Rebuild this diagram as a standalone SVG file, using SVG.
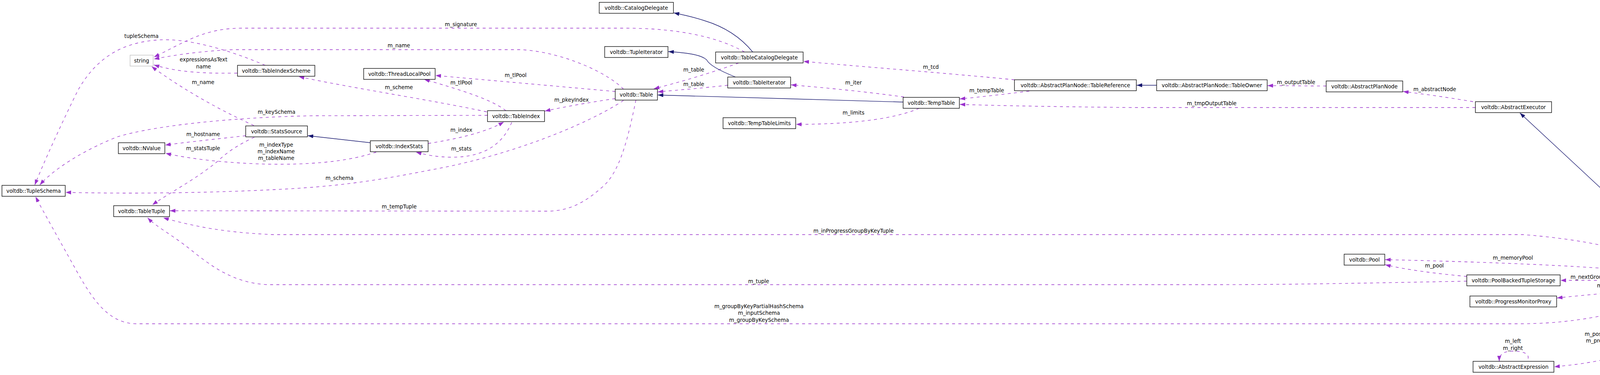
<svg xmlns="http://www.w3.org/2000/svg" width="4771" height="959" viewBox="0 0 4771 959">
<style>
text{font-family:"DejaVu Sans","Liberation Sans",sans-serif;font-size:13.33px;fill:#000}
.n text{text-anchor:middle}
.n rect{fill:#fff;stroke:#000;stroke-width:1.33}
.lbl{text-anchor:middle}
.d{fill:none;stroke:#9a32cd;stroke-width:1.33;stroke-dasharray:7.5,8.5;marker-end:url(#ap)}
.s{fill:none;stroke:#191970;stroke-width:1.33;marker-end:url(#an)}
</style>
<defs>
<marker id="ap" markerUnits="userSpaceOnUse" markerWidth="14" markerHeight="10" viewBox="0 0 14 10" refX="14" refY="5" orient="auto"><path d="M0,0 L14,5 L0,10 z" fill="#9a32cd"/></marker>
<marker id="an" markerUnits="userSpaceOnUse" markerWidth="14" markerHeight="10" viewBox="0 0 14 10" refX="14" refY="5" orient="auto"><path d="M0,0 L14,5 L0,10 z" fill="#191970"/></marker>
</defs>
<rect width="4771" height="959" fill="#fff"/>
<g id="edges">
<path class="d" d="M1906,133 C1830,90 1720,72 1600,72 L620,72 C520,72 470,110 394,146"/>
<text class="lbl" x="1180" y="67">m_signature</text>
<path class="d" d="M1596,228 C1560,190 1450,135 1336,127 L600,127 C520,130 450,140 394,151"/>
<text class="lbl" x="1021" y="121">m_name</text>
<path class="d" d="M679,167 C580,125 480,98 408,102 C300,108 240,160 200,230 C160,310 110,420 89,473"/>
<text class="lbl" x="362" y="97">tupleSchema</text>
<path class="d" d="M607,187 C530,188 460,186 394,166"/>
<text class="lbl" x="521" y="157">expressionsAsText</text>
<text class="lbl" x="521" y="175">name</text>
<path class="d" d="M650,321 C560,280 470,230 388,170"/>
<text class="lbl" x="520" y="215">m_name</text>
<path class="d" d="M1248,295 L800,296 C600,300 400,320 300,350 C200,390 130,440 102,473"/>
<text class="lbl" x="708" y="291">m_keySchema</text>
<path class="d" d="M629,347 C560,355 490,362 423,371"/>
<text class="lbl" x="520" y="348">m_hostname</text>
<path class="d" d="M651,351 C610,370 580,390 560,410 C500,460 430,495 390,524"/>
<text class="lbl" x="520" y="384">m_statsTuple</text>
<path class="d" d="M963,389 C900,410 820,420 714,420 C620,420 500,410 424,392"/>
<text class="lbl" x="707" y="375">m_indexType</text>
<text class="lbl" x="707" y="392">m_indexName</text>
<text class="lbl" x="707" y="409">m_tableName</text>
<path class="d" d="M1246,286 C1100,255 900,225 765,196"/>
<text class="lbl" x="1021" y="228">m_scheme</text>
<path class="d" d="M1575,234 C1420,220 1250,205 1115,193"/>
<text class="lbl" x="1320" y="197">m_tlPool</text>
<path class="d" d="M1295,283 C1260,255 1180,230 1086,203"/>
<text class="lbl" x="1181" y="216">m_tlPool</text>
<path class="d" d="M1575,252 C1510,262 1450,272 1395,284"/>
<text class="lbl" x="1463" y="260">m_pkeyIndex</text>
<path class="d" d="M1096,367 C1170,355 1240,340 1290,312"/>
<text class="lbl" x="1181" y="337">m_index</text>
<path class="d" d="M1310,313 C1290,360 1250,402 1157,402 C1120,402 1090,396 1065,389"/>
<text class="lbl" x="1181" y="385">m_stats</text>
<path class="d" d="M1596,257 C1500,320 1300,400 1100,435 C950,465 850,478 700,485 C500,495 300,495 168,492"/>
<text class="lbl" x="869" y="460">m_schema</text>
<path class="d" d="M1628,256 C1610,340 1590,440 1540,480 C1500,515 1460,540 1400,540 L435,539"/>
<text class="lbl" x="1022" y="533">m_tempTuple</text>
<path class="d" d="M4318,702 C4250,670 4150,620 3900,600 L700,600 C580,595 500,580 418,557"/>
<text class="lbl" x="2185" y="595">m_inProgressGroupByKeyTuple</text>
<path class="d" d="M3755,719 C3500,724 3300,728 3100,728 L690,728 C600,726 540,680 490,640 C440,600 400,580 378,557"/>
<text class="lbl" x="1942" y="724">m_tuple</text>
<path class="d" d="M4318,732 C4250,770 4100,828 3890,828 L350,828 C280,828 240,770 200,700 C150,610 110,540 91,503"/>
<text class="lbl" x="1943" y="788">m_groupByKeyPartialHashSchema</text>
<text class="lbl" x="1943" y="805">m_inputSchema</text>
<text class="lbl" x="1943" y="823">m_groupByKeySchema</text>
<path class="d" d="M4267,702 C4150,685 3900,672 3546,664"/>
<text class="lbl" x="3873" y="664">m_memoryPool</text>
<path class="d" d="M3755,707 C3680,700 3600,690 3546,677"/>
<text class="lbl" x="3672" y="684">m_pool</text>
<path class="d" d="M4232,717 L3995,717"/>
<text class="lbl" x="4112" y="713">m_nextGroupByKeyStorage</text>
<path class="d" d="M4262,732 C4180,745 4080,752 3986,762"/>
<text class="lbl" x="4113" y="735">m_pmp</text>
<path class="d" d="M4341,737 C4310,820 4260,880 4180,900 C4100,925 4040,932 3979,938"/>
<text class="lbl" x="4112" y="859">m_postPredicate</text>
<text class="lbl" x="4112" y="876">m_prePredicate</text>
<path class="d" d="M3912,917 C3915,905 3900,898 3873,898 C3850,898 3838,905 3838,924"/>
<text class="lbl" x="3873" y="877">m_left</text>
<text class="lbl" x="3873" y="895">m_right</text>
<path class="d" d="M3771,260 C3700,248 3640,240 3592,234"/>
<text class="lbl" x="3673" y="233">m_abstractNode</text>
<path class="d" d="M3777,275 L2900,275 C2700,273 2550,270 2457,267"/>
<text class="lbl" x="3102" y="269">m_tmpOutputTable</text>
<path class="d" d="M3395,220 L3245,219"/>
<text class="lbl" x="3318" y="215">m_outputTable</text>
<path class="d" d="M2597,204 C2400,185 2200,170 2057,157"/>
<text class="lbl" x="2383" y="176">m_tcd</text>
<path class="d" d="M2635,233 C2570,241 2510,248 2457,253"/>
<text class="lbl" x="2526" y="236">m_tempTable</text>
<path class="d" d="M2314,248 C2220,235 2120,225 2025,217"/>
<text class="lbl" x="2185" y="216">m_iter</text>
<path class="d" d="M2353,277 C2300,300 2200,318 2038,318"/>
<text class="lbl" x="2185" y="293">m_limits</text>
<path class="d" d="M1891,161 C1810,190 1740,210 1674,227"/>
<text class="lbl" x="1776" y="183">m_table</text>
<path class="d" d="M1863,218 C1800,225 1740,230 1684,235"/>
<text class="lbl" x="1776" y="220">m_table</text>
<path class="s" d="M1927,133 C1900,100 1860,70 1804,53 C1780,45 1750,38 1725,33"/>
<path class="s" d="M1883,197 C1840,180 1815,165 1809,153 C1795,140 1760,135 1711,132"/>
<path class="s" d="M2312,261 L1684,243"/>
<path class="s" d="M2961,218 L2910,218"/>
<path class="s" d="M948,365 L788,347"/>
<path class="s" d="M4337,703 L3891,289"/>
<path class="s" d="M4525,717 L4475,717"/>
</g>
<g id="node-TupleSchema" class="n"><rect x="5" y="474" width="162" height="28"/><text x="86" y="493">voltdb::TupleSchema</text></g>
<g id="node-string" class="n"><rect x="333" y="141" width="59" height="28" style="stroke:#bfbfbf"/><text x="362.5" y="160">string</text></g>
<g id="node-TableIndexScheme" class="n"><rect x="608" y="167" width="198" height="28"/><text x="707" y="186">voltdb::TableIndexScheme</text></g>
<g id="node-StatsSource" class="n"><rect x="629" y="322" width="158" height="28"/><text x="708" y="341">voltdb::StatsSource</text></g>
<g id="node-NValue" class="n"><rect x="303" y="365" width="119" height="28"/><text x="362.5" y="384">voltdb::NValue</text></g>
<g id="node-TableTuple" class="n"><rect x="291" y="526" width="143" height="28"/><text x="362.5" y="545">voltdb::TableTuple</text></g>
<g id="node-ThreadLocalPool" class="n"><rect x="931" y="175" width="183" height="28"/><text x="1022.5" y="194">voltdb::ThreadLocalPool</text></g>
<g id="node-TableIndex" class="n"><rect x="1248" y="283" width="146" height="28"/><text x="1321" y="302">voltdb::TableIndex</text></g>
<g id="node-IndexStats" class="n"><rect x="948" y="360" width="148" height="28"/><text x="1022" y="379">voltdb::IndexStats</text></g>
<g id="node-CatalogDelegate" class="n"><rect x="1534" y="6" width="190" height="28"/><text x="1629" y="25">voltdb::CatalogDelegate</text></g>
<g id="node-TupleIterator" class="n"><rect x="1548" y="119" width="162" height="28"/><text x="1629" y="138">voltdb::TupleIterator</text></g>
<g id="node-Table" class="n"><rect x="1575" y="228" width="108" height="28"/><text x="1629" y="247">voltdb::Table</text></g>
<g id="node-TableCatalogDelegate" class="n"><rect x="1832" y="133" width="224" height="28"/><text x="1944" y="152">voltdb::TableCatalogDelegate</text></g>
<g id="node-TableIterator" class="n"><rect x="1863" y="197" width="161" height="28"/><text x="1943.5" y="216">voltdb::TableIterator</text></g>
<g id="node-TempTableLimits" class="n"><rect x="1851" y="301" width="186" height="28"/><text x="1944" y="320">voltdb::TempTableLimits</text></g>
<g id="node-TempTable" class="n"><rect x="2312" y="249" width="144" height="28"/><text x="2384" y="268">voltdb::TempTable</text></g>
<g id="node-TableReference" class="n"><rect x="2597" y="204" width="312" height="28"/><text x="2753" y="223">voltdb::AbstractPlanNode::TableReference</text></g>
<g id="node-TableOwner" class="n"><rect x="2961" y="204" width="283" height="28"/><text x="3102.5" y="223">voltdb::AbstractPlanNode::TableOwner</text></g>
<g id="node-AbstractPlanNode" class="n"><rect x="3395" y="207" width="196" height="28"/><text x="3493" y="226">voltdb::AbstractPlanNode</text></g>
<g id="node-AbstractExecutor" class="n"><rect x="3777" y="260" width="195" height="28"/><text x="3874.5" y="279">voltdb::AbstractExecutor</text></g>
<g id="node-Pool" class="n"><rect x="3441" y="650" width="104" height="28"/><text x="3493" y="669">voltdb::Pool</text></g>
<g id="node-PoolBackedTupleStorage" class="n"><rect x="3755" y="703" width="239" height="28"/><text x="3874.5" y="722">voltdb::PoolBackedTupleStorage</text></g>
<g id="node-ProgressMonitorProxy" class="n"><rect x="3763" y="757" width="222" height="28"/><text x="3874" y="776">voltdb::ProgressMonitorProxy</text></g>
<g id="node-AbstractExpression" class="n"><rect x="3771" y="924" width="207" height="28"/><text x="3874.5" y="943">voltdb::AbstractExpression</text></g>
<g id="node-AggregateExecutorBase" class="n"><rect x="4232" y="703" width="242" height="28"/><text x="4353" y="722">voltdb::AggregateExecutorBase</text></g>
<g id="node-AggregateHashExecutor" class="n"><rect x="4525" y="703" width="241" height="28" style="fill:#bfbfbf"/><text x="4645.5" y="722">voltdb::AggregateHashExecutor</text></g>
</svg>
